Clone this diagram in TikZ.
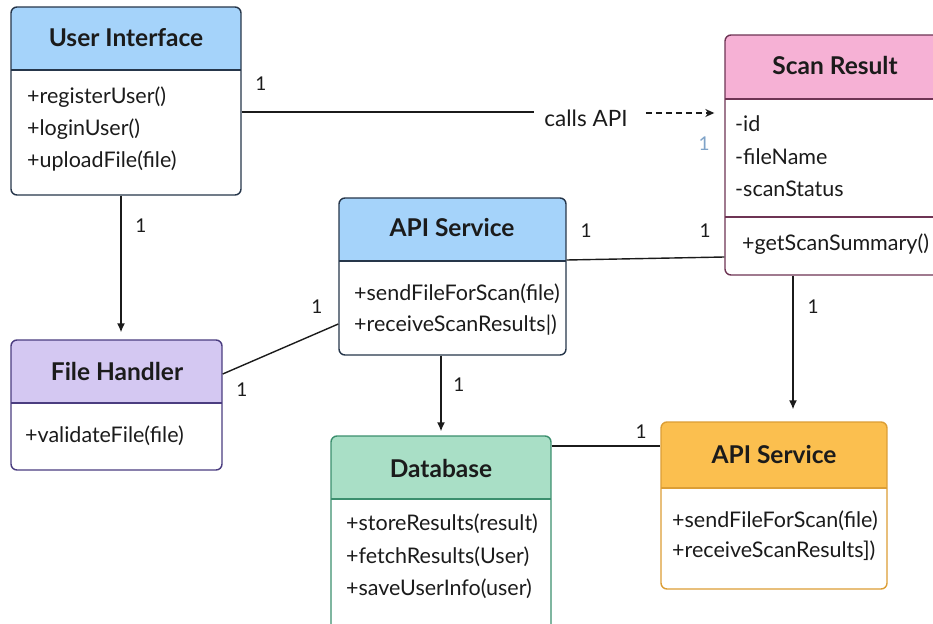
\documentclass[tikz,border=0pt]{standalone}
\usepackage{fontspec}
\setmainfont{Lato}
\usetikzlibrary{arrows.meta,fit}
\definecolor{txt}{HTML}{1B1B1B}
\definecolor{bluehead}{HTML}{A5D3FA}
\definecolor{blueline}{HTML}{26364A}
\definecolor{purphead}{HTML}{D4C8F2}
\definecolor{purpline}{HTML}{4B3D80}
\definecolor{greenhead}{HTML}{A9DFC6}
\definecolor{greenline}{HTML}{3B8F6E}
\definecolor{orahead}{HTML}{FBBF4F}
\definecolor{oraline}{HTML}{DC9E35}
\definecolor{pinkhead}{HTML}{F6B1D5}
\definecolor{pinkline}{HTML}{6E3454}
\definecolor{mult}{HTML}{7FA3C8}
\newcommand\umlbox[8]{%
  \begin{scope}
    \clip[rounded corners=6pt] (#2,#3) rectangle (#4,#5);
    \fill[white] (#2,#3) rectangle (#4,#5);
    \fill[#7] (#2,#3) rectangle (#4,#6);
  \end{scope}
  \draw[#8, line width=1.4pt] (#2,#6) -- (#4,#6);
  \node[draw=#8, line width=1.4pt, rounded corners=6pt, inner sep=0pt, fit={(#2,#3) (#4,#5)}] (#1) {};
}
\tikzset{
  title/.style={font=\fontsize{24.5}{28}\selectfont\bfseries, text=txt, inner sep=0pt},
  member/.style={font=\fontsize{21.5}{25}\selectfont, text=txt, anchor=west, inner sep=0pt},
  one/.style={font=\fontsize{19}{22}\selectfont, text=txt, inner sep=0pt},
  conn/.style={line width=1.4pt, draw=txt},
  arr/.style={conn, -{Latex[length=9pt,width=8pt]}},
}
\begin{document}
\begin{tikzpicture}[x=1pt,y=-1pt]
\useasboundingbox (0,0) rectangle (933,623);
\clip (0,0) rectangle (933,623);
\fill[white] (0,0) rectangle (933,623);

% User Interface
\umlbox{ui}{11}{7}{241}{195}{70}{bluehead}{blueline}
\node[title] (uit) at (126,38) {User Interface};
\node[member] (ui1) at (27,97) {+registerUser()};
\node[member] (ui2) at (27,129) {+loginUser()};
\node[member] (ui3) at (27,161) {+uploadFile(file)};

% Scan Result
\umlbox{sr}{725}{35}{945}{275}{99}{pinkhead}{pinkline}
\draw[pinkline, line width=1.4pt] (725,217) -- (945,217);
\node[title] (srt) at (835,65) {Scan Result};
\node[member] (sr1) at (735,124) {-id};
\node[member] (sr2) at (735,157) {-fileName};
\node[member] (sr3) at (735,189) {-scanStatus};
\node[member] (sr4) at (742,244) {+getScanSummary()};

% API Service (blue)
\umlbox{api}{339}{198}{566}{355}{261}{bluehead}{blueline}
\node[title] (apit) at (452,228) {API Service};
\node[member] (api1) at (354,294) {+sendFileForScan(file)};
\node[member] (api2) at (354,325) {+receiveScanResults|)};

% File Handler
\umlbox{fh}{11}{340}{222}{470}{403}{purphead}{purpline}
\node[title] (fht) at (117,371) {File Handler};
\node[member] (fh1) at (25,436) {+validateFile(file)};

% Database
\umlbox{db}{331}{436}{551}{640}{499}{greenhead}{greenline}
\node[title] (dbt) at (441,468) {Database};
\node[member] (db1) at (346,524) {+storeResults(result)};
\node[member] (db2) at (346,557) {+fetchResults(User)};
\node[member] (db3) at (346,589) {+saveUserInfo(user)};

% API Service (orange)
\umlbox{api2}{661}{422}{887}{589}{488}{orahead}{oraline}
\node[title] (api2t) at (774,455) {API Service};
\node[member] (api21) at (672,521) {+sendFileForScan(file)};
\node[member] (api22) at (672,551) {+receiveScanResults])};

% calls API
\node[font=\fontsize{22.5}{26}\selectfont, text=txt, inner sep=0pt] (calls) at (586,118) {calls API};
\draw[conn] (ui.east |- 0,112) -- ([xshift=-10pt]calls.west |- 0,112);
\draw[conn, dashed, dash pattern=on 6pt off 4pt, -{Stealth[length=9pt,width=8pt]}] ([xshift=18pt]calls.east |- 0,113) -- ([xshift=-10pt]sr.west |- 0,113);
\node[one, text=mult] (m1) at (704,144) {1};
\node[one] (m2) at (261,84) {1};

% UI -> File Handler
\draw[arr, shorten >=7pt] (121,0 |- ui.south) -- (121,0 |- fh.north);
\node[one] (m3) at (141,226) {1};

% API -> File Handler
\draw[conn] (api.west |- 0,324) -- (fh.east |- 0,374);
\node[one] (m4) at (317,307) {1};
\node[one] (m5) at (242,390) {1};

% API -> Scan Result
\draw[conn] (api.east |- 0,260) -- (sr.west |- 0,257);
\node[one] (m6) at (586,231) {1};
\node[one] (m7) at (705,231) {1};

% API -> Database
\draw[arr, shorten >=4pt] (441,0 |- api.south) -- (441,0 |- db.north);
\node[one] (m8) at (459,385) {1};

% Scan Result -> orange API
\draw[arr, shorten >=12pt] (793,0 |- sr.south) -- (793,0 |- api2.north);
\node[one] (m9) at (813,307) {1};

% Database -- orange API
\draw[conn] (db.east |- 0,446) -- (api2.west |- 0,446);
\node[one] (m10) at (641,432) {1};
\end{tikzpicture}
\end{document}
